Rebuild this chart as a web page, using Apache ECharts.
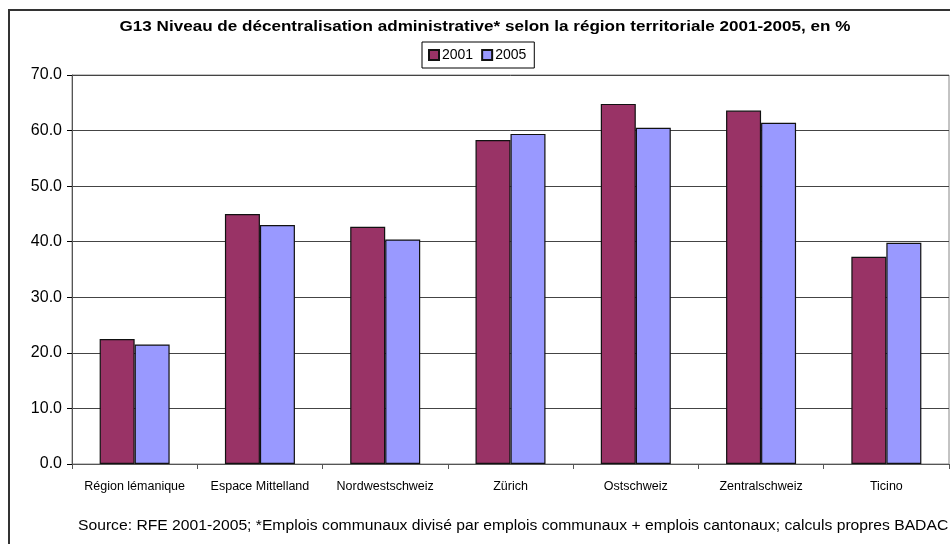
<!DOCTYPE html>
<html><head><meta charset="utf-8">
<script src="https://cdn.jsdelivr.net/npm/echarts@6/dist/echarts.min.js"></script>
<style>html,body{margin:0;padding:0;background:#fff}#c{width:950px;height:544px}</style>
</head><body><div id="c"></div>
<script>
const categories = ["Région lémanique","Espace Mittelland","Nordwestschweiz","Zürich","Ostschweiz","Zentralschweiz","Ticino"];
const values2001 = [22.5, 45.0, 42.7, 58.3, 64.8, 63.6, 37.3];
const values2005 = [21.5, 43.0, 40.4, 59.4, 60.5, 61.4, 39.8];
const yTicks = [0, 10, 20, 30, 40, 50, 60, 70];
const titleText = 'G13 Niveau de décentralisation administrative* selon la région territoriale 2001-2005, en %';
const sourceText = 'Source: RFE 2001-2005; *Emplois communaux divisé par emplois communaux + emplois cantonaux; calculs propres BADAC';

const chart = echarts.init(document.getElementById('c'));
const F = 'Liberation Sans, Arial, sans-serif';
chart.setOption({
  animation: false,
  backgroundColor: '#fff',
  textStyle: { fontFamily: F },
  legend: {
    data: ['2001', '2005'],
    left: 422, top: 42, width: 124, height: 31,
    padding: [6, 8, 6, 6],
    borderColor: '#000', borderWidth: 1,
    itemWidth: 10, itemHeight: 10, itemGap: 8,
    icon: 'rect',
    textStyle: { fontSize: 14, color: '#000', fontFamily: F, padding: [0, 0, 0, -2] }
  },
  grid: { left: 72, top: 75, width: 877, height: 389, show: true, borderColor: '#888', borderWidth: 1, backgroundColor: 'transparent' },
  xAxis: {
    type: 'category', data: categories,
    axisLine: { lineStyle: { color: '#555' } },
    axisTick: { show: true, interval: 0, length: 5, lineStyle: { color: '#555' } },
    axisLabel: { interval: 0, hideOverlap: false, fontSize: 12.5, color: '#000', margin: 16, fontFamily: F }
  },
  yAxis: {
    type: 'value', min: 0, max: 70, interval: 10,
    axisLine: { show: true, lineStyle: { color: '#555' } },
    axisTick: { show: true, length: 5, lineStyle: { color: '#000' } },
    axisLabel: { fontSize: 16, color: '#000', margin: 10, fontFamily: F,
      formatter: v => yTicks.includes(v) ? v.toFixed(1) : '' },
    splitLine: { lineStyle: { color: '#444', width: 1 } }
  },
  series: [
    { name: '2001', type: 'bar', data: values2001, barWidth: 35, barGap: '0%',
      itemStyle: { color: '#993366', borderColor: '#111', borderWidth: 1.2 } },
    { name: '2005', type: 'bar', data: values2005, barWidth: 35,
      itemStyle: { color: '#9999FF', borderColor: '#111', borderWidth: 1.2 } }
  ],
  graphic: [
    { type: 'rect', shape: { x: 9, y: 10, width: 1000, height: 600 }, style: { fill: 'none', stroke: '#333', lineWidth: 2 }, z: 100 },
    { type: 'text', x: 485, y: 27, scaleX: 1.22, style: { x: 0, y: 0, text: titleText, textAlign: 'center', textVerticalAlign: 'middle', fontSize: 14, fontWeight: 'bold', fill: '#000', fontFamily: F } },
    { type: 'text', x: 78, y: 526, scaleX: 1.12, style: { x: 0, y: 0, text: sourceText, textAlign: 'left', textVerticalAlign: 'middle', fontSize: 14, fill: '#000', fontFamily: F } }
  ]
});
</script></body></html>
